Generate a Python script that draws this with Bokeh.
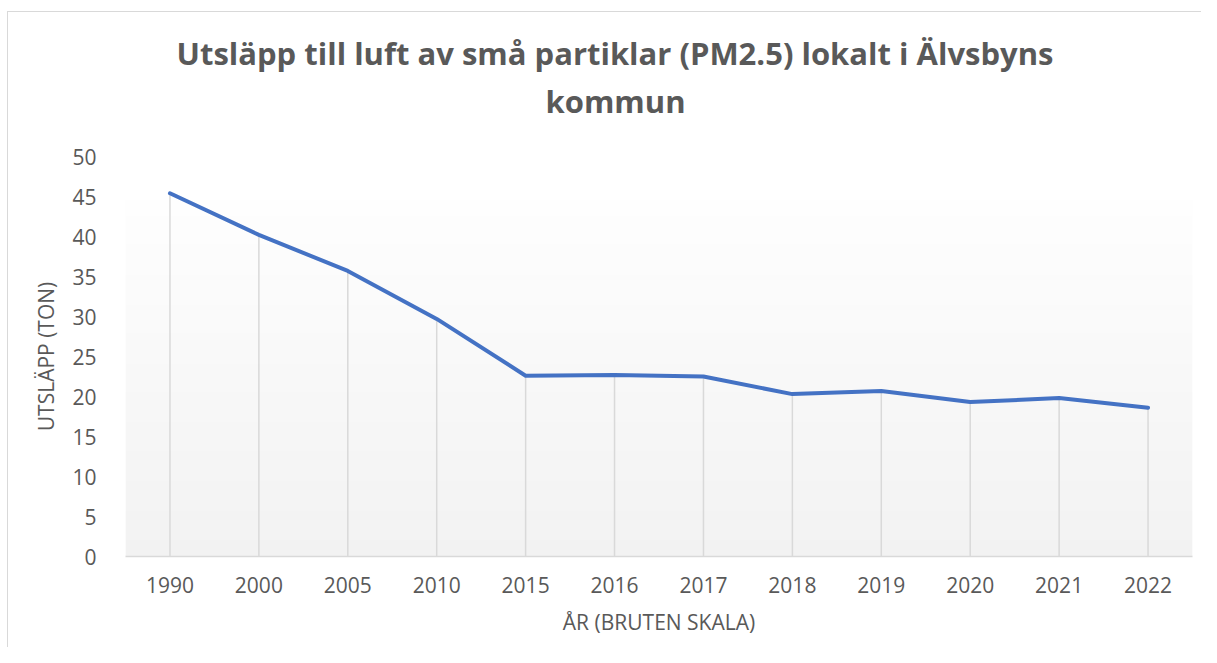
import numpy as np
from bokeh.plotting import figure
from bokeh.models import Range1d, FixedTicker, Title
from bokeh.embed import file_html
from bokeh.resources import INLINE

years = ["1990", "2000", "2005", "2010", "2015", "2016", "2017", "2018", "2019", "2020", "2021", "2022"]
emissions = [45.4, 40.2, 35.7, 29.7, 22.6, 22.7, 22.5, 20.3, 20.7, 19.3, 19.8, 18.6]
y_ticks = [0, 5, 10, 15, 20, 25, 30, 35, 40, 45, 50]

title_line1 = "Utsläpp till luft av små partiklar (PM2.5) lokalt i Älvsbyns"
title_line2 = "kommun"
x_label = "ÅR (BRUTEN SKALA)"
y_label = "UTSLÄPP (TON)"

FONT = "Open Sans"
TXT = "#595959"

xs = list(range(len(years)))

p = figure(width=1201, height=647, output_backend="svg", toolbar_location=None,
           x_range=Range1d(-0.5, len(years) - 0.5), y_range=Range1d(0, 50),
           min_border_left=125, min_border_right=9, min_border_top=156, min_border_bottom=91)

# chart border (only top/left edges fall inside the reference image), drawn as CSS behind a transparent canvas
p.border_fill_alpha = 0
p.styles = {
    "background-color": "white",
    "background-image": "linear-gradient(#d9d9d9, #d9d9d9), linear-gradient(#d9d9d9, #d9d9d9)",
    "background-size": "1px 100%, 100% 1px",
    "background-position": "7px 11px, 7px 11px",
    "background-repeat": "no-repeat",
}

# gradient plot area background
N = 200
img = np.empty((N, 1), dtype=np.uint32)
view = img.view(dtype=np.uint8).reshape((N, 1, 4))
for i in range(N):
    t = i / (N - 1)
    c = int(round(242 + t * (254 - 242)))
    view[i, 0] = [c, c, c, 255]
p.image_rgba(image=[img], x=-0.5, y=0, dw=len(years), dh=44.5)

# drop lines
p.segment(x0=xs, y0=[0] * len(xs), x1=xs, y1=emissions, line_color="#d9d9d9", line_width=1.5)
# series
p.line(xs, emissions, line_color="#4472C4", line_width=4, line_join="round", line_cap="round")

# titles: spacer (closest to frame), line 2, then line 1 (p.title, outermost)
spacer = Title(text=" ", text_font_size="1px", standoff=32)
p.add_layout(spacer, "above")
t2 = Title(text=title_line2, align="left", offset=420, text_font=FONT, text_font_size="31px",
           text_font_style="bold", text_color=TXT, standoff=0)
p.add_layout(t2, "above")

p.title.text = title_line1
p.title.align = "left"
p.title.offset = 51
p.title.text_font = FONT
p.title.text_font_size = "31px"
p.title.text_font_style = "bold"
p.title.text_color = TXT
p.title.standoff = 8

p.xgrid.visible = False
p.ygrid.visible = False
p.outline_line_color = None

xa = p.xaxis[0]
xa.ticker = FixedTicker(ticks=xs)
xa.major_label_overrides = {i: y for i, y in enumerate(years)}
xa.major_tick_line_color = None
xa.minor_tick_line_color = None
xa.axis_line_color = "#d9d9d9"
xa.axis_line_width = 1.5
xa.major_label_text_font = FONT
xa.major_label_text_font_size = "21px"
xa.major_label_text_color = TXT
xa.major_label_standoff = 14
xa.axis_label = x_label
xa.axis_label_text_font = FONT
xa.axis_label_text_font_size = "21px"
xa.axis_label_text_font_style = "normal"
xa.axis_label_text_color = TXT
xa.axis_label_standoff = 12

ya = p.yaxis[0]
ya.ticker = FixedTicker(ticks=y_ticks)
ya.major_tick_line_color = None
ya.minor_tick_line_color = None
ya.axis_line_color = None
ya.major_label_text_font = FONT
ya.major_label_text_font_size = "21px"
ya.major_label_text_color = TXT
ya.major_label_standoff = 23
ya.axis_label = y_label
ya.axis_label_text_font = FONT
ya.axis_label_text_font_size = "21px"
ya.axis_label_text_font_style = "normal"
ya.axis_label_text_color = TXT
ya.axis_label_standoff = 9

open("out.html", "w").write(file_html(p, INLINE))
